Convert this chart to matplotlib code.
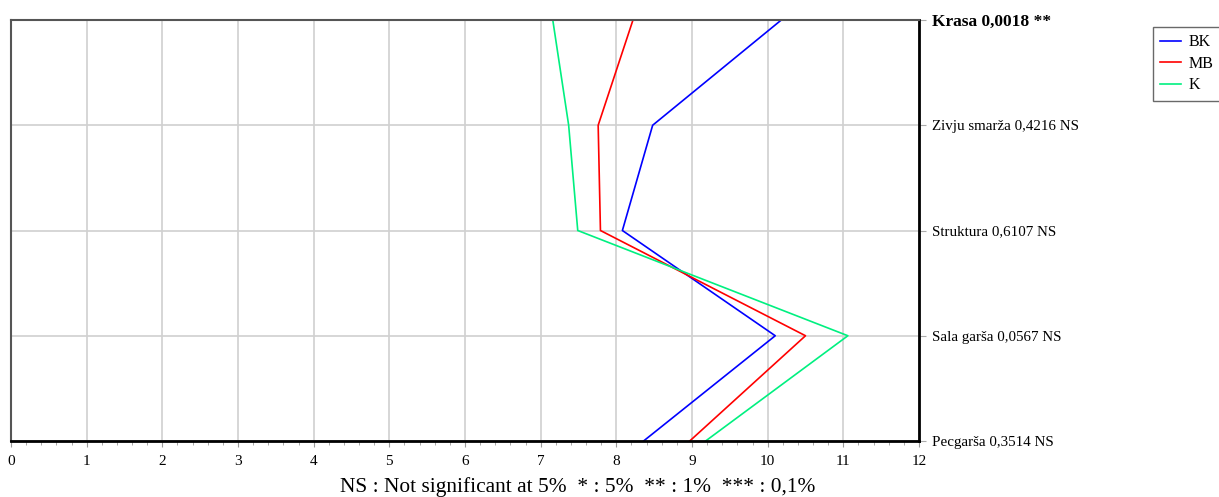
import matplotlib.pyplot as plt

# attributes, top to bottom, with significance text
attributes = ['Krasa 0,0018 **', 'Zivju smarža 0,4216 NS', 'Struktura 0,6107 NS',
              'Sala garša 0,0567 NS', 'Pecgarša 0,3514 NS']
bk = [10.18, 8.48, 8.08, 10.10, 8.36]
mb = [8.22, 7.76, 7.79, 10.50, 8.97]
k = [7.16, 7.37, 7.49, 11.06, 9.18]

plt.rcParams['font.family'] = ['Liberation Serif', 'DejaVu Serif']

fig = plt.figure(figsize=(12.19, 4.97), dpi=100)
ax = fig.add_axes([11 / 1219, 56 / 497, 908 / 1219, 421 / 497])

ypos = list(range(len(attributes) - 1, -1, -1))
ax.plot(bk, ypos, color='#0000ff', lw=1.2, label='BK')
ax.plot(mb, ypos, color='#ff0000', lw=1.2, label='MB')
ax.plot(k, ypos, color='#00f080', lw=1.2, label='K')

ax.set_xlim(0, 12)
ax.set_ylim(0, len(attributes) - 1)
ax.set_xticks(range(0, 13))
ax.set_xticks([i * 0.2 for i in range(61)], minor=True)
ax.tick_params(axis='x', which='major', labelsize=11, length=4, color='#999999', pad=6)
ax.tick_params(axis='x', which='minor', length=3, color='#999999')
ax.yaxis.tick_right()
ax.set_yticks(ypos)
ax.set_yticklabels(attributes)
ax.tick_params(axis='y', labelsize=10.8, length=5, color='#aaaaaa', pad=4)
top_label = ax.get_yticklabels()[0]
top_label.set_fontweight('bold')
top_label.set_fontsize(12.5)
ax.grid(True, color='#d0d0d0', lw=1.2)
ax.set_axisbelow(True)

for side in ['left', 'top']:
    ax.spines[side].set_color('#555555')
    ax.spines[side].set_linewidth(1.5)
for side in ['right', 'bottom']:
    ax.spines[side].set_color('black')
    ax.spines[side].set_linewidth(2)

fig.text(578 / 1219, 10 / 497, 'NS : Not significant at 5%  * : 5%  ** : 1%  *** : 0,1%',
         ha='center', va='center', fontsize=15.4)

leg = fig.legend(loc='upper left', bbox_to_anchor=(1153 / 1219, 1 - 27 / 497),
                 fontsize=11.5, frameon=True, fancybox=False, handlelength=1.3,
                 handletextpad=0.5, borderpad=0.45, labelspacing=0.35, borderaxespad=0)
leg.get_frame().set_edgecolor('#444444')
leg.get_frame().set_linewidth(1)

fig.savefig('out.png', dpi=100)
